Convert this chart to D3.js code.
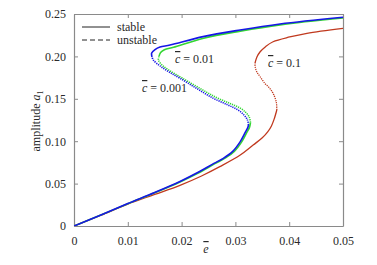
<!DOCTYPE html>
<html>
<head>
<meta charset="utf-8">
<script src="https://cdn.jsdelivr.net/npm/d3@7"></script>
<style>
body { margin: 0; background: #fff; }
</style>
</head>
<body>
<svg width="377" height="265"></svg>
<script>
// ticks
var xTicks = [0, 0.01, 0.02, 0.03, 0.04, 0.05];
var xTickLabels = ["0", "0.01", "0.02", "0.03", "0.04", "0.05"];
var yTicks = [0, 0.05, 0.10, 0.15, 0.20, 0.25];
var yTickLabels = ["0", "0.05", "0.10", "0.15", "0.20", "0.25"];

// c = 0.001 (blue)
var blueStableLow = [[0,0],[0.005,0.013],[0.01,0.0265],[0.015,0.0395],[0.0197,0.0525],[0.023,0.063],[0.026,0.0738],[0.02775,0.0798],[0.0295,0.088],[0.0309,0.0995],[0.0318,0.11],[0.0323,0.116],[0.03243,0.1191]];
var blueUnstable = [[0.03243,0.1191],[0.03225,0.125],[0.0316,0.1309],[0.03048,0.1368],[0.02862,0.1427],[0.02589,0.1506],[0.02268,0.1627],[0.0197,0.1742],[0.01784,0.181],[0.01599,0.1887],[0.01474,0.1958],[0.0145,0.1993]];
var blueStableUp = [[0.0145,0.1993],[0.01444,0.204],[0.01506,0.2081],[0.01599,0.2111],[0.01784,0.2134],[0.024,0.2233],[0.03086,0.2311],[0.0383,0.2382],[0.05,0.2461]];

// c = 0.01 (green)
var greenStableLow = [[0,0],[0.005,0.0129],[0.01,0.0263],[0.015,0.0392],[0.0197,0.052],[0.023,0.0622],[0.0262,0.0735],[0.028,0.0798],[0.0298,0.088],[0.0312,0.0995],[0.0321,0.11],[0.0326,0.116],[0.0328,0.122]];
var greenUnstable = [[0.0328,0.122],[0.0326,0.128],[0.032,0.1335],[0.0309,0.139],[0.029,0.1445],[0.0263,0.152],[0.0231,0.1635],[0.0201,0.1745],[0.0183,0.1812],[0.0166,0.1885],[0.0157,0.1955],[0.0158,0.2]];
var greenStableUp = [[0.0158,0.2],[0.0161,0.2045],[0.0168,0.2078],[0.0185,0.2108],[0.0241,0.2215],[0.0309,0.2298],[0.0383,0.2372],[0.05,0.2452]];

// c = 0.1 (red)
var redStableLow = [[0,0],[0.005,0.0127],[0.01,0.0258],[0.015,0.0372],[0.0197,0.048],[0.0237,0.059],[0.0271,0.070],[0.0309,0.0837],[0.0333,0.0955],[0.035,0.104],[0.036,0.111],[0.0367,0.118],[0.0372,0.126],[0.0377,0.1368]];
var redUnstable = [[0.0377,0.1368],[0.0376,0.146],[0.037,0.1565],[0.0363,0.163],[0.0355,0.168],[0.0346,0.176],[0.03396,0.182],[0.0337,0.187],[0.03364,0.1919]];
var redStableUp = [[0.03364,0.1919],[0.034,0.1993],[0.0346,0.2055],[0.0356,0.2115],[0.037,0.2173],[0.0401,0.2229],[0.0433,0.2272],[0.05,0.233]];

var svg = d3.select("svg");
var plotL = 74, plotR = 343, plotT = 14, plotB = 226;
var serif = '"Liberation Serif", "Times New Roman", serif';

var x = d3.scaleLinear().domain([0, 0.05]).range([plotL, plotR]);
var y = d3.scaleLinear().domain([0, 0.25]).range([plotB, plotT]);

svg.append("clipPath").attr("id", "clip")
    .append("rect")
    .attr("x", plotL).attr("y", plotT)
    .attr("width", plotR - plotL).attr("height", plotB - plotT);

var axisColor = "#8a8a8a";
var textColor = "#2a2a2a";
var tickLen = 4;

// axes (inward ticks on all sides)
var fmtX = function(d, i) { return xTickLabels[i]; };
var fmtY = function(d, i) { return yTickLabels[i]; };

var gx = svg.append("g").attr("transform", "translate(0," + plotB + ")")
    .call(d3.axisBottom(x).tickValues(xTicks).tickFormat(fmtX).tickSizeInner(-tickLen).tickSizeOuter(0).tickPadding(10));
var gxTop = svg.append("g").attr("transform", "translate(0," + plotT + ")")
    .call(d3.axisTop(x).tickValues(xTicks).tickFormat("").tickSizeInner(-tickLen).tickSizeOuter(0));
var gy = svg.append("g").attr("transform", "translate(" + plotL + ",0)")
    .call(d3.axisLeft(y).tickValues(yTicks).tickFormat(fmtY).tickSizeInner(-tickLen).tickSizeOuter(0).tickPadding(8));
var gyRight = svg.append("g").attr("transform", "translate(" + plotR + ",0)")
    .call(d3.axisRight(y).tickValues(yTicks).tickFormat("").tickSizeInner(-tickLen).tickSizeOuter(0));

[gx, gxTop, gy, gyRight].forEach(function(g) {
    g.attr("font-family", serif).attr("font-size", 12);
    g.selectAll("path.domain").attr("stroke", axisColor).attr("stroke-width", 1.2);
    g.selectAll(".tick line").attr("stroke", axisColor);
    g.selectAll(".tick text").attr("fill", textColor);
});

// curves
var line = d3.line()
    .x(function(d) { return x(d[0]); })
    .y(function(d) { return y(d[1]); })
    .curve(d3.curveCatmullRom);

var plot = svg.append("g").attr("clip-path", "url(#clip)");

var series = [
    { pts: redStableLow, color: "#c0391e", dash: null, w: 1.3 },
    { pts: redUnstable, color: "#c0391e", dash: "1.2,1", w: 1.3 },
    { pts: redStableUp, color: "#c0391e", dash: null, w: 1.3 },
    { pts: greenStableLow, color: "#33d633", dash: null, w: 1.6 },
    { pts: greenUnstable, color: "#33d633", dash: "1.2,1", w: 1.6 },
    { pts: greenStableUp, color: "#33d633", dash: null, w: 1.6 },
    { pts: blueStableLow, color: "#1616e6", dash: null, w: 1.6 },
    { pts: blueUnstable, color: "#1616e6", dash: "1.2,1", w: 1.6 },
    { pts: blueStableUp, color: "#1616e6", dash: null, w: 1.6 }
];

plot.selectAll("path.curve")
    .data(series)
    .enter().append("path")
    .attr("class", "curve")
    .attr("d", function(d) { return line(d.pts); })
    .attr("fill", "none")
    .attr("stroke", function(d) { return d.color; })
    .attr("stroke-width", function(d) { return d.w; })
    .attr("stroke-dasharray", function(d) { return d.dash; });

// legend
var legend = svg.append("g").attr("font-family", serif).attr("font-size", 12);
legend.append("line").attr("x1", 82).attr("x2", 110).attr("y1", 27).attr("y2", 27)
    .attr("stroke", "#222").attr("stroke-width", 1);
legend.append("line").attr("x1", 82).attr("x2", 110).attr("y1", 40).attr("y2", 40)
    .attr("stroke", "#222").attr("stroke-width", 1).attr("stroke-dasharray", "5,3");
legend.append("text").attr("x", 117).attr("y", 31).attr("fill", textColor).text("stable");
legend.append("text").attr("x", 117).attr("y", 44).attr("fill", textColor).text("unstable");

// curve labels
var labels = [
    { x: 175, y: 63, val: "0.01" },
    { x: 142, y: 92, val: "0.001" },
    { x: 268, y: 67, val: "0.1" }
];
labels.forEach(function(l) {
    var t = svg.append("text").attr("x", l.x).attr("y", l.y)
        .attr("fill", textColor).attr("font-family", serif).attr("font-size", 12);
    t.append("tspan").style("font-style", "italic")
        .style("text-decoration", "overline").text("c");
    t.append("tspan").text(" = " + l.val);
});

// axis titles
var yl = svg.append("text")
    .attr("transform", "translate(40,121) rotate(-90)")
    .attr("text-anchor", "middle")
    .attr("fill", textColor)
    .attr("font-family", serif).attr("font-size", 12);
yl.append("tspan").text("amplitude ");
yl.append("tspan").style("font-style", "italic").text("a");
yl.append("tspan").attr("dy", 3).attr("font-size", 8).text("1");

svg.append("text")
    .attr("x", 206).attr("y", 253)
    .attr("text-anchor", "middle")
    .attr("fill", textColor)
    .attr("font-family", serif).attr("font-size", 12)
    .style("font-style", "italic")
    .style("text-decoration", "overline")
    .text("e");
</script>
</body>
</html>
